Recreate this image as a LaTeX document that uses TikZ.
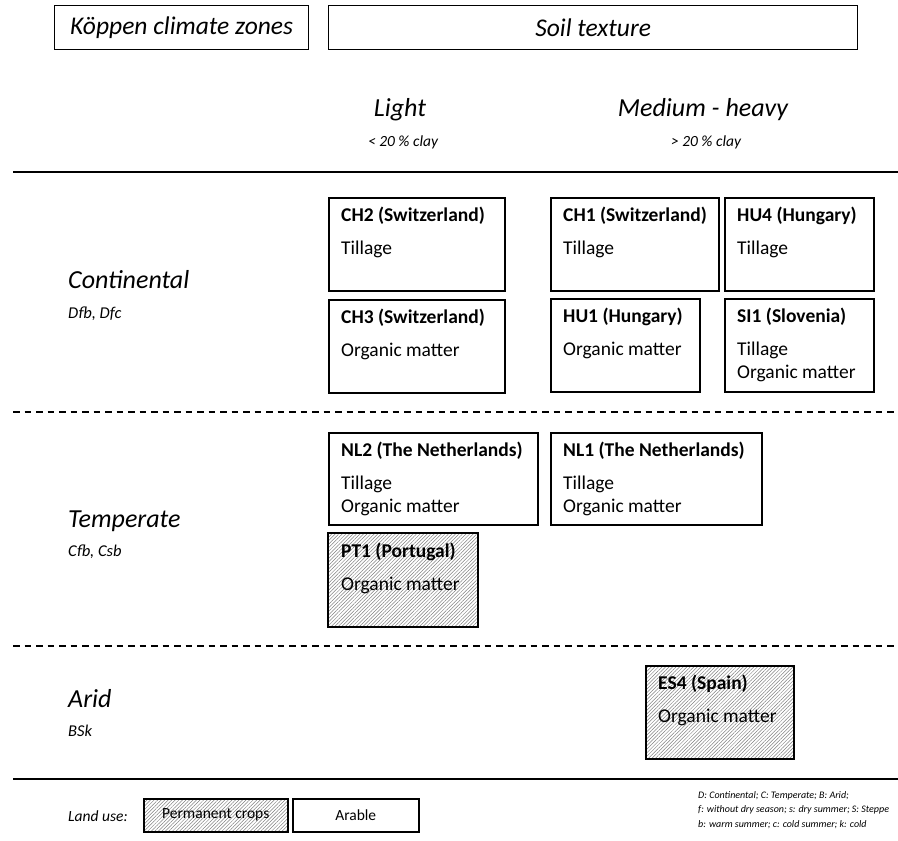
\documentclass[tikz,border=0pt]{standalone}
\usepackage{fontspec}
\setmainfont{Carlito}
\usetikzlibrary{patterns.meta}

\begin{document}
\begin{tikzpicture}[x=1pt,y=-1pt,
    headbox/.style={draw,line width=1.3pt,inner sep=0pt,anchor=north west,minimum height=44pt,font=\fontsize{25.5}{30}\selectfont\itshape},
    sitebox/.style={draw,line width=2pt,inner sep=0pt,anchor=north west},
    plain/.style={},
    hatched/.style={pattern={Lines[angle=45,distance=2.5pt,line width=0.5pt]},pattern color=gray},
    sitetext/.style={inner sep=0pt,anchor=base west,font=\fontsize{19.5}{23}\selectfont},
    zone/.style={inner sep=0pt,anchor=base west,font=\fontsize{26}{30}\selectfont\itshape},
    code/.style={inner sep=0pt,anchor=base west,font=\fontsize{16.5}{20}\selectfont\itshape},
    legendbox/.style={draw,line width=1.5pt,inner sep=0pt,anchor=north west,minimum height=33pt,font=\fontsize{15.5}{18}\selectfont}]
  \useasboundingbox (0,0) rectangle (898,841);

  % header
  \node[headbox,minimum width=254pt] (koppen) at (54,5) {Köppen climate zones};
  \node[headbox,minimum width=529pt] (soil) at (328,5) {Soil texture};
  \node[zone,anchor=base] (light) at (400,116) {Light};
  \node[code,anchor=base,font=\fontsize{15.5}{18}\selectfont\itshape] (lightclay) at (403,146) {< 20 \% clay};
  \node[zone,anchor=base] (heavy) at (703,116) {Medium - heavy};
  \node[code,anchor=base,font=\fontsize{15.5}{18}\selectfont\itshape] (heavyclay) at (706,146) {> 20 \% clay};

  % separators
  \draw[line width=2pt] (13,172) -- (898,172);
  \foreach \y in {412,646}
    \draw[line width=1.5pt,dash pattern=on 6.5pt off 5pt] (13,\y) -- (898,\y);
  \draw[line width=2pt] (13,779) -- (898,779);

  % climate zones
  \node[zone] (cont) at (68,288) {Continental};
  \node[code] (contcode) at (68,318) {Dfb, Dfc};
  \node[zone] (temp) at (68,527) {Temperate};
  \node[code] (tempcode) at (68,556) {Cfb, Csb};
  \node[zone] (arid) at (68,707) {Arid};
  \node[code] (aridcode) at (68,736) {BSk};

  % sites
  \foreach \name/\x/\y/\w/\h/\title/\body/\look in {
      ch2/328/197/176/93/CH2 (Switzerland)/Tillage/plain,
      ch3/328/299/176/93/CH3 (Switzerland)/Organic matter/plain,
      ch1/550/197/168/93/CH1 (Switzerland)/Tillage/plain,
      hu4/724/197/149/93/HU4 (Hungary)/Tillage/plain,
      hu1/550/298/149/93/HU1 (Hungary)/Organic matter/plain,
      si1/724/298/149/93/SI1 (Slovenia)/Tillage\\Organic matter/plain,
      nl2/328/432/209/92/NL2 (The Netherlands)/Tillage\\Organic matter/plain,
      nl1/550/432/211/92/NL1 (The Netherlands)/Tillage\\Organic matter/plain,
      pt1/328/533/150/94/PT1 (Portugal)/Organic matter/hatched,
      es4/645/665/148/93/ES4 (Spain)/Organic matter/hatched} {
    \node[sitebox,\look,minimum width=\w pt,minimum height=\h pt] (\name) at (\x,\y) {};
    \node[sitetext] (\name-t) at ([shift={(13,24)}]\name.north west)
      {\parbox[t]{200pt}{\raggedright\textbf{\title}\\[10pt]\body}};
  }

  % legend
  \node[inner sep=0pt,anchor=base west,font=\fontsize{15.5}{18}\selectfont\itshape] (landuse) at (68,821) {Land use:};
  \node[legendbox,hatched,minimum width=144pt] (perm) at (143,798) {Permanent crops};
  \node[legendbox,minimum width=126pt] (arable) at (292,798) {Arable};
  \node[inner sep=0pt,anchor=base west,font=\fontsize{10}{14.5}\selectfont\itshape] (notes) at (698,798)
    {\parbox[t]{200pt}{\raggedright D: Continental; C: Temperate; B: Arid;\\
      f: without dry season; s: dry summer; S: Steppe\\
      b: warm summer; c: cold summer; k: cold}};
\end{tikzpicture}
\end{document}
